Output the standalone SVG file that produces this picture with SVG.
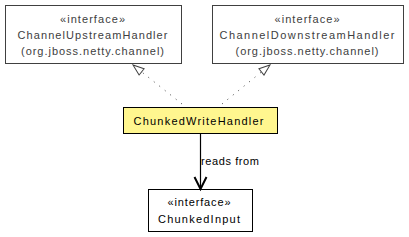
<svg xmlns="http://www.w3.org/2000/svg" width="409" height="237" viewBox="0 0 409 237">
<style>
.box{fill:#fff;stroke:#404040;stroke-width:1}
.t{font-family:"Liberation Sans",Arial,sans-serif;font-size:11px;fill:#404040;text-anchor:middle}
.k{fill:#000}
.dash{stroke:#404040;stroke-width:1;stroke-dasharray:1,6;fill:none}
</style>
<defs>
<marker id="tri" markerWidth="14" markerHeight="12" refX="12" refY="5" orient="auto" markerUnits="userSpaceOnUse">
<path d="M1,1 L12,5 L1,9 Z" fill="#fff" stroke="#404040" stroke-width="1"/>
</marker>
<marker id="open" markerWidth="16" markerHeight="16" refX="13" refY="7" orient="auto" markerUnits="userSpaceOnUse">
<path d="M1,1 L13,7 L1,13" fill="none" stroke="#000" stroke-width="2"/>
</marker>
</defs>
<g id="ChannelUpstreamHandler">
<rect class="box" x="5.5" y="5.5" width="176" height="58"/>
<text class="t" x="92.5" y="23" textLength="65" lengthAdjust="spacing">«interface»</text>
<text class="t" x="92.5" y="39" textLength="150" lengthAdjust="spacing">ChannelUpstreamHandler</text>
<text class="t" x="92.5" y="55" textLength="143" lengthAdjust="spacing">(org.jboss.netty.channel)</text>
</g>
<g id="ChannelDownstreamHandler">
<rect class="box" x="212.5" y="5.5" width="191" height="58"/>
<text class="t" x="307" y="23" textLength="65" lengthAdjust="spacing">«interface»</text>
<text class="t" x="307" y="39" textLength="175" lengthAdjust="spacing">ChannelDownstreamHandler</text>
<text class="t" x="307" y="55" textLength="143" lengthAdjust="spacing">(org.jboss.netty.channel)</text>
</g>
<g id="ChunkedWriteHandler">
<rect x="123.5" y="107.5" width="154" height="26" fill="#fff68f" stroke="#000" stroke-width="1"/>
<text class="t k" x="198.5" y="125" textLength="130" lengthAdjust="spacing">ChunkedWriteHandler</text>
</g>
<g id="ChunkedInput">
<rect x="148.5" y="189.5" width="104" height="42" fill="#fff" stroke="#000" stroke-width="1"/>
<text class="t k" x="199" y="206" textLength="63" lengthAdjust="spacing">«interface»</text>
<text class="t k" x="199" y="223" textLength="82" lengthAdjust="spacing">ChunkedInput</text>
</g>
<g id="connectors">
<path class="dash" d="M182,104 L133,65" marker-end="url(#tri)"/>
<path class="dash" d="M222,104 L270,65" marker-end="url(#tri)"/>
<path d="M200.5,134 L200.5,189" stroke="#000" stroke-width="1.2" fill="none" marker-end="url(#open)"/>
<text class="t k" x="201" y="165" style="text-anchor:start" textLength="58" lengthAdjust="spacing">reads from</text>
</g>
</svg>
